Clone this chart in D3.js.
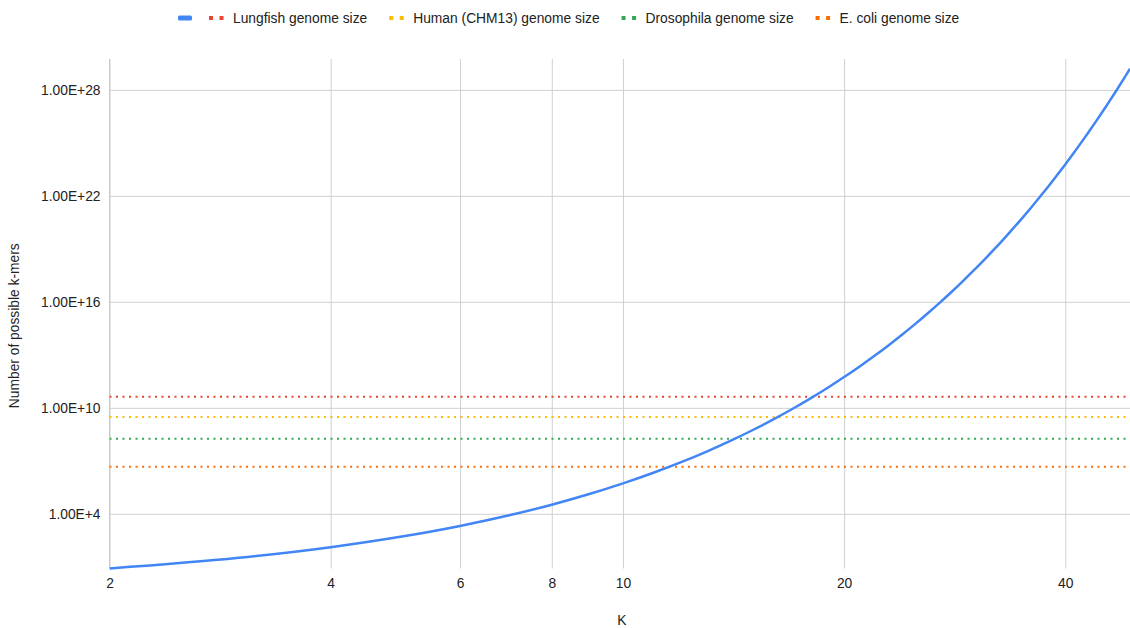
<!DOCTYPE html>
<html>
<head>
<meta charset="utf-8">
<script src="https://cdn.jsdelivr.net/npm/d3@7"></script>
<style>
  html, body { margin: 0; padding: 0; background: #fff; }
  svg { display: block; font-family: "Liberation Sans", Arial, sans-serif; }
</style>
</head>
<body>
<svg id="chart" width="1130" height="628"></svg>
<script>
// ---- data ----
const kValues = [2,3,4,5,6,7,8,9,10,11,12,13,14,15,16,17,18,19,20,21,22,23,24,25,
  26,27,28,29,30,31,32,33,34,35,36,37,38,39,40,41,42,43,44,45,46,47,48,49];
const kmerCounts = [8,32,128,512,2048,8192,32768,131072,524288,2097152,8388608,
  3.355e7,1.342e8,5.369e8,2.147e9,8.590e9,3.436e10,1.374e11,5.498e11,2.199e12,
  8.796e12,3.518e13,1.407e14,5.629e14,2.252e15,9.007e15,3.603e16,1.441e17,5.765e17,
  2.306e18,9.223e18,3.689e19,1.476e20,5.903e20,2.361e21,9.445e21,3.778e22,1.511e23,
  6.045e23,2.418e24,9.671e24,3.869e25,1.547e26,6.190e26,2.476e27,9.904e27,3.961e28,1.585e29];
const genomeNames = ["Lungfish genome size","Human (CHM13) genome size","Drosophila genome size","E. coli genome size"];
const genomeSizes = [4.3e10, 3.05e9, 1.8e8, 4.6e6];
const genomeColors = ["#EA4335","#FBBC04","#34A853","#FF6D01"];
const lineColor = "#4285F4";
const xTicks = [2,4,6,8,10,20,40];
const yTicks = [1e4,1e10,1e16,1e22,1e28];
const yTickLabels = ["1.00E+4","1.00E+10","1.00E+16","1.00E+22","1.00E+28"];
const xDomain = [2, 49];
const yDomain = [8, 5.6e29];
const xTitle = "K";
const yTitle = "Number of possible k-mers";

// ---- layout ----
const FS = 13.8;
const svg = d3.select("#chart");
const pL = 109.5, pR = 1130, pT = 59, pB = 568.5;
const x = d3.scaleLog().domain(xDomain).range([pL, pR]);
const y = d3.scaleLog().domain(yDomain).range([pB, pT]);

// gridlines
const gx = svg.append("g").attr("transform", `translate(0,${pB})`)
  .call(d3.axisBottom(x).tickValues(xTicks).tickSize(-(pB - pT)).tickPadding(6).tickFormat(d => d));
gx.select(".domain").remove();
gx.selectAll(".tick line").attr("stroke", "#d0d0d0").attr("stroke-width", 1);
gx.selectAll(".tick text").attr("fill", "#222").attr("font-size", FS).attr("dy", "0.95em")
  .attr("font-family", "Liberation Sans, Arial, sans-serif");

const gy = svg.append("g").attr("transform", `translate(${pL},0)`)
  .call(d3.axisLeft(y).tickValues(yTicks).tickSize(-(pR - pL)).tickPadding(9)
    .tickFormat((d, i) => yTickLabels[i]));
gy.select(".domain").remove();
gy.selectAll(".tick line").attr("stroke", "#d0d0d0").attr("stroke-width", 1);
gy.selectAll(".tick text").attr("fill", "#222").attr("font-size", FS)
  .attr("font-family", "Liberation Sans, Arial, sans-serif");

// left axis line
svg.append("line").attr("x1", x(xDomain[0])).attr("x2", x(xDomain[0]))
  .attr("y1", pT).attr("y2", pB).attr("stroke", "#c8c8c8");

// genome lines
svg.append("clipPath").attr("id", "clip").append("rect")
  .attr("x", pL).attr("y", pT - 2).attr("width", pR - pL + 2).attr("height", pB - pT + 4);
const plot = svg.append("g").attr("clip-path", "url(#clip)");
genomeSizes.forEach((v, i) => {
  plot.append("line")
    .attr("x1", x(xDomain[0])).attr("x2", x(xDomain[1]))
    .attr("y1", y(v)).attr("y2", y(v))
    .attr("stroke", genomeColors[i]).attr("stroke-width", 2)
    .attr("stroke-dasharray", "2,4.5");
});

// main line
const line = d3.line().x((d, i) => x(kValues[i])).y(d => y(d)).curve(d3.curveMonotoneX);
plot.append("path").datum(kmerCounts).attr("d", line)
  .attr("fill", "none").attr("stroke", lineColor).attr("stroke-width", 2.5);

// axis titles
svg.append("text").attr("x", (pL + pR) / 2 + 2).attr("y", 625).attr("text-anchor", "middle")
  .attr("font-size", FS).attr("fill", "#222").text(xTitle);
svg.append("text").attr("transform", `translate(19,${(pT + pB) / 2 + 12}) rotate(-90)`)
  .attr("text-anchor", "middle").attr("font-size", FS).attr("fill", "#222").text(yTitle);

// legend
const lg = svg.append("g");
const ly = 18;
let cx = 178;
lg.append("rect").attr("x", cx).attr("y", ly - 2.5).attr("width", 14).attr("height", 5)
  .attr("rx", 1.5).attr("fill", lineColor);
cx += 31;
genomeNames.forEach((name, i) => {
  lg.append("rect").attr("x", cx).attr("y", ly - 2).attr("width", 4).attr("height", 4).attr("fill", genomeColors[i]);
  lg.append("rect").attr("x", cx + 10.5).attr("y", ly - 2).attr("width", 4).attr("height", 4).attr("fill", genomeColors[i]);
  const t = lg.append("text").attr("x", cx + 24).attr("y", ly).attr("dy", "0.35em")
    .attr("font-size", FS).attr("fill", "#222").text(name);
  cx += 24 + t.node().getComputedTextLength() + 22;
});
</script>
</body>
</html>
